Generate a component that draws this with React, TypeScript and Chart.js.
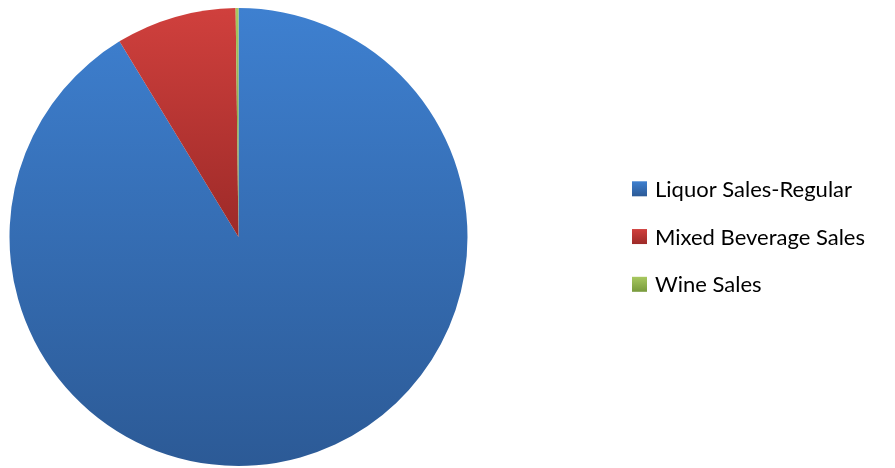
import React, { useEffect, useRef } from "react";
import { Chart, registerables } from "chart.js";

Chart.register(...registerables);

const labels = ["Liquor Sales-Regular", "Mixed Beverage Sales", "Wine Sales"];
const values = [91.3, 8.5, 0.2];
const topColors = ["#3e80d0", "#d0403d", "#a8c860"];
const bottomColors = ["#2c5a96", "#9d2a28", "#789a3c"];

export default function App() {
  const ref = useRef<HTMLCanvasElement>(null);

  useEffect(() => {
    const canvas = ref.current;
    if (!canvas) return;

    const sideLegend = {
      id: "sideLegend",
      afterDraw(chart: any) {
        const ctx = chart.ctx as CanvasRenderingContext2D;
        ctx.save();
        const boxX = 632;
        const box = 15;
        const textX = 655;
        const firstY = 188.8;
        const step = 47.75;
        ctx.font = "22px Lato";
        ctx.textBaseline = "alphabetic";
        ctx.textAlign = "left";
        labels.forEach((l, i) => {
          const cy = firstY + i * step;
          const g = ctx.createLinearGradient(0, cy - box / 2, 0, cy + box / 2);
          g.addColorStop(0, topColors[i]);
          g.addColorStop(1, bottomColors[i]);
          ctx.fillStyle = g;
          ctx.fillRect(boxX, cy - box / 2, box, box);
          ctx.fillStyle = "#000000";
          ctx.fillText(l, textX, cy + 8);
        });
        ctx.restore();
      },
    };

    const chart = new Chart(canvas, {
      type: "pie",
      data: {
        labels,
        datasets: [
          {
            data: values,
            borderWidth: 0,
            backgroundColor: (c: any) => {
              const i = c.dataIndex ?? 0;
              const area = c.chart.chartArea;
              if (!area) return topColors[i];
              const y0 = area.top;
              const y1 = i === 0 ? area.bottom : (area.top + area.bottom) / 2;
              const g = c.chart.ctx.createLinearGradient(0, y0, 0, y1);
              g.addColorStop(0, topColors[i]);
              g.addColorStop(1, bottomColors[i]);
              return g;
            },
          },
        ],
      },
      options: {
        animation: false,
        responsive: true,
        maintainAspectRatio: false,
        layout: { padding: { left: 9.5, right: 427.5, top: 8, bottom: 2 } },
        plugins: {
          legend: { display: false },
          tooltip: { enabled: false },
        },
      },
      plugins: [sideLegend],
    });

    return () => chart.destroy();
  }, []);

  return (
    <div style={{ position: "fixed", left: 0, top: 0, width: 895, height: 468, background: "#ffffff" }}>
      <canvas ref={ref} />
    </div>
  );
}
